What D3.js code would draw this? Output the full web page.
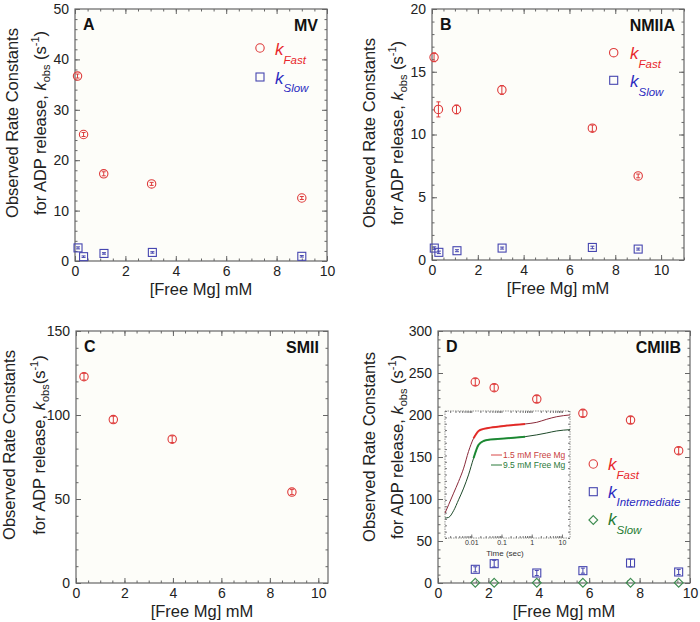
<!DOCTYPE html>
<html><head><meta charset="utf-8">
<script src="https://cdn.jsdelivr.net/npm/d3@7/dist/d3.min.js"></script>
<style>
body{margin:0;background:#fff;}
svg{font-family:Arial,"Liberation Sans",Helvetica,sans-serif;}
</style></head><body>
<svg id="chart" width="700" height="622"></svg>
<script>
// ---------- DATA ----------
// Panel A (MV)
const mgA_fast = [0.1, 0.34, 1.14, 3.04, 9.0];
const kFastA   = [36.7, 25.1, 17.3, 15.3, 12.5];
const errFastA = [0.4, 0.4, 0.4, 0.3, 0.3];
const mgA_slow = [0.12, 0.34, 1.15, 3.07, 9.0];
const kSlowA   = [2.6, 0.86, 1.5, 1.7, 0.93];
const errSlowA = [0.2, 0.15, 0.15, 0.15, 0.15];
// Panel B (NMIIA)
const mgB_fast = [0.09, 0.28, 1.07, 3.05, 7.0, 9.0];
const kFastB   = [16.15, 12.0, 12.0, 13.55, 10.5, 6.7];
const errFastB = [0.35, 0.6, 0.35, 0.35, 0.25, 0.15];
const mgB_slow = [0.1, 0.3, 1.09, 3.06, 7.0, 9.0];
const kSlowB   = [0.95, 0.61, 0.74, 0.95, 1.0, 0.87];
const errSlowB = [0.1, 0.1, 0.08, 0.08, 0.1, 0.08];
// Panel C (SMII)
const mgC      = [0.33, 1.54, 3.97, 8.91];
const kFastC   = [122.8, 97.3, 85.6, 54.1];
const errFastC = [2, 2, 2, 1.5];
// Panel D (CMIIB)
const mgD      = [1.48, 2.23, 3.92, 5.75, 7.64, 9.55];
const kFastD   = [239.3, 232.5, 219, 202, 194, 157.5];
const errFastD = [4, 4, 4, 4, 4, 4];
const kIntD    = [16.3, 23, 11.9, 14.7, 23.8, 13.1];
const errIntD  = [3, 4, 3, 3, 4.5, 3];
const kSlowD   = [0.3, 0.3, 0.3, 0.3, 0.3, 0.3];
// Inset (fluorescence transients, normalized)
const insetTime  = [0.00135, 0.00178, 0.0026, 0.0038, 0.0056, 0.0081, 0.0119, 0.0174, 0.0255, 0.0424, 0.151, 0.605, 1.47, 3.15, 6.73, 18.5];
const insetRed   = [0.196, 0.262, 0.353, 0.445, 0.550, 0.681, 0.785, 0.843, 0.859, 0.869, 0.885, 0.898, 0.911, 0.935, 0.955, 0.969];
const insetGreen = [0.157, 0.162, 0.215, 0.301, 0.393, 0.497, 0.628, 0.733, 0.764, 0.775, 0.785, 0.798, 0.812, 0.827, 0.843, 0.853];
const insetTicks = [0.01, 0.1, 1, 10];
const insetTickLabels = ["0.01", "0.1", "1", "10"];
const insetLegend = ["1.5 mM Free Mg", "9.5 mM Free Mg"];
const xTicks = [0, 2, 4, 6, 8, 10];

// ---------- STYLE ----------
const RED = "#de3b3b", BLUE = "#4646b0", GREEN = "#3d8c50";
const RED_T = "#e8262b", BLUE_T = "#2a2ac0", GREEN_T = "#1f7a32";
const FRAME = "#666";

const svg = d3.select("#chart");

function zip(xs, ys, es){ return xs.map((x,i)=>({x, y: ys[i], e: es ? es[i] : 0})); }

function drawMarker(g, type, cx, cy, color){
  if (type === "circle") {
    g.append("circle").attr("cx", cx).attr("cy", cy).attr("r", 4.2)
      .attr("fill", "none").attr("stroke", color).attr("stroke-width", 1.1);
  } else if (type === "square") {
    g.append("rect").attr("x", cx-4).attr("y", cy-4).attr("width", 8).attr("height", 8)
      .attr("fill", "none").attr("stroke", color).attr("stroke-width", 1.1);
  } else {
    const s = 4.4;
    g.append("path").attr("d", `M${cx},${cy-s}L${cx+s},${cy}L${cx},${cy+s}L${cx-s},${cy}Z`)
      .attr("fill", "none").attr("stroke", color).attr("stroke-width", 1.1);
  }
}

function panel(cfg){
  const g = svg.append("g");
  const x = d3.scaleLinear().domain(cfg.xDomain).range([cfg.x0, cfg.x1]);
  const y = d3.scaleLinear().domain(cfg.yDomain).range([cfg.y1, cfg.y0]);

  g.append("rect").attr("x", cfg.x0).attr("y", cfg.y0)
    .attr("width", cfg.x1-cfg.x0).attr("height", cfg.y1-cfg.y0)
    .attr("fill", "#fdfdf9").attr("stroke", "none");

  const xMinor = d3.range(cfg.xDomain[0], cfg.xDomain[1]+1e-9, 0.5);
  const yMajor = d3.range(cfg.yDomain[0], cfg.yDomain[1]+1e-9, cfg.yStep);
  const yMinor = d3.range(cfg.yDomain[0], cfg.yDomain[1]+1e-9, cfg.yMinor);

  function styleAxis(sel, labels){
    sel.select(".domain").remove();
    sel.selectAll("line").attr("stroke", FRAME);
    sel.selectAll("text").attr("fill", "#222").style("font-size", "14px");
    if(!labels) sel.selectAll("text").remove();
  }
  // bottom
  g.append("g").attr("transform", `translate(0,${cfg.y1})`)
    .call(d3.axisBottom(x).tickValues(xMinor).tickSize(-2.5).tickFormat(""))
    .call(s=>styleAxis(s,false));
  g.append("g").attr("transform", `translate(0,${cfg.y1})`)
    .call(d3.axisBottom(x).tickValues(xTicks).tickSize(-5).tickPadding(5).tickFormat(d3.format("d")))
    .call(s=>styleAxis(s,true));
  // top
  g.append("g").attr("transform", `translate(0,${cfg.y0})`)
    .call(d3.axisTop(x).tickValues(xMinor).tickSize(-2.5).tickFormat(""))
    .call(s=>styleAxis(s,false));
  g.append("g").attr("transform", `translate(0,${cfg.y0})`)
    .call(d3.axisTop(x).tickValues(xTicks).tickSize(-5).tickFormat(""))
    .call(s=>styleAxis(s,false));
  // left
  g.append("g").attr("transform", `translate(${cfg.x0},0)`)
    .call(d3.axisLeft(y).tickValues(yMinor).tickSize(-2.5).tickFormat(""))
    .call(s=>styleAxis(s,false));
  g.append("g").attr("transform", `translate(${cfg.x0},0)`)
    .call(d3.axisLeft(y).tickValues(yMajor).tickSize(-5).tickPadding(6).tickFormat(d3.format("d")))
    .call(s=>styleAxis(s,true));
  // right
  g.append("g").attr("transform", `translate(${cfg.x1},0)`)
    .call(d3.axisRight(y).tickValues(yMinor).tickSize(-2.5).tickFormat(""))
    .call(s=>styleAxis(s,false));
  g.append("g").attr("transform", `translate(${cfg.x1},0)`)
    .call(d3.axisRight(y).tickValues(yMajor).tickSize(-5).tickFormat(""))
    .call(s=>styleAxis(s,false));

  g.append("rect").attr("x", cfg.x0).attr("y", cfg.y0)
    .attr("width", cfg.x1-cfg.x0).attr("height", cfg.y1-cfg.y0)
    .attr("fill", "none").attr("stroke", FRAME).attr("stroke-width", 1.2);

  // panel letter & name
  g.append("text").attr("x", cfg.x0+8).attr("y", cfg.y0+21)
    .style("font-size", "16px").style("font-weight", "bold").attr("fill", "#111").text(cfg.letter);
  g.append("text").attr("x", cfg.x1-9).attr("y", cfg.y0+22).attr("text-anchor", "end")
    .style("font-size", "16px").style("font-weight", "bold").attr("fill", "#111").text(cfg.name);

  // axis titles
  const cx = (cfg.x0+cfg.x1)/2;
  g.append("text").attr("x", cx).attr("y", cfg.y1+34).attr("text-anchor", "middle")
    .style("font-size", "16.5px").attr("fill", "#222").text("[Free Mg] mM");

  g.append("text").attr("transform", `translate(${cfg.yt1},${cfg.ytc}) rotate(-90)`)
    .attr("text-anchor", "middle").style("font-size", "16.5px").attr("fill", "#222")
    .text("Observed Rate Constants");
  const t2 = g.append("text").attr("transform", `translate(${cfg.yt2},${cfg.ytc}) rotate(-90)`)
    .attr("text-anchor", "middle").style("font-size", "16.5px").attr("fill", "#222");
  t2.append("tspan").text("for ADP release, ");
  t2.append("tspan").style("font-style", "italic").text("k");
  t2.append("tspan").attr("dy", 4).style("font-size", "11px").text("obs");
  t2.append("tspan").attr("dy", -4).text(cfg.spaceBeforeS ? " (s" : "(s");
  t2.append("tspan").attr("dy", -7).style("font-size", "11px").text("-1");
  t2.append("tspan").attr("dy", 7).text(")");

  // series
  cfg.series.forEach(s=>{
    const sg = g.append("g");
    s.data.forEach(d=>{
      const px = x(d.x), py = y(d.y);
      if (d.e > 0) {
        const ya = y(d.y + d.e), yb = y(d.y - d.e);
        sg.append("line").attr("x1", px).attr("x2", px).attr("y1", ya).attr("y2", yb)
          .attr("stroke", s.color).attr("stroke-width", 1);
        [ya, yb].forEach(yy=> sg.append("line").attr("x1", px-2).attr("x2", px+2)
          .attr("y1", yy).attr("y2", yy).attr("stroke", s.color).attr("stroke-width", 1));
      }
      drawMarker(sg, s.type, px, py, s.color);
    });
  });

  // legend
  (cfg.legend || []).forEach(l=>{
    drawMarker(g, l.type, l.mx, l.my, l.color);
    g.append("text").attr("x", l.kx).attr("y", l.kb).style("font-size", "17px")
      .style("font-style", "italic").attr("fill", l.tcolor).text("k");
    g.append("text").attr("x", l.kx+8.5).attr("y", l.kb+8.5).style("font-size", "11.5px")
      .style("font-style", "italic").attr("fill", l.tcolor).text(l.sub);
  });
  return {x, y, g};
}

// Panel A
panel({
  x0:75, x1:327, y0:9, y1:261, xDomain:[0,10], yDomain:[0,50], yStep:10, yMinor:2,
  letter:"A", name:"MV", yt1:18, yt2:46, ytc:123, spaceBeforeS:true,
  series:[
    {type:"circle", color:RED, data: zip(mgA_fast, kFastA, errFastA)},
    {type:"square", color:BLUE, data: zip(mgA_slow, kSlowA, errSlowA)}
  ],
  legend:[
    {type:"circle", color:RED, tcolor:RED_T, mx:260, my:48, kx:275, kb:55, sub:"Fast"},
    {type:"square", color:BLUE, tcolor:BLUE_T, mx:260, my:77, kx:275, kb:83.5, sub:"Slow"}
  ]
});
// Panel B
panel({
  x0:432, x1:684, y0:9, y1:260, xDomain:[0,11], yDomain:[0,20], yStep:5, yMinor:1,
  letter:"B", name:"NMIIA", yt1:375, yt2:403, ytc:133, spaceBeforeS:true,
  series:[
    {type:"circle", color:RED, data: zip(mgB_fast, kFastB, errFastB)},
    {type:"square", color:BLUE, data: zip(mgB_slow, kSlowB, errSlowB)}
  ],
  legend:[
    {type:"circle", color:RED, tcolor:RED_T, mx:613.7, my:52.7, kx:630, kb:59, sub:"Fast"},
    {type:"square", color:BLUE, tcolor:BLUE_T, mx:613.7, my:80.3, kx:630, kb:87.3, sub:"Slow"}
  ]
});
// Panel C
panel({
  x0:76, x1:328, y0:331, y1:583, xDomain:[0,10.4], yDomain:[0,150], yStep:50, yMinor:10,
  letter:"C", name:"SMII", yt1:15, yt2:45, ytc:445, spaceBeforeS:false,
  series:[
    {type:"circle", color:RED, data: zip(mgC, kFastC, errFastC)}
  ]
});
// Panel D
panel({
  x0:438, x1:690, y0:331, y1:583, xDomain:[0,10], yDomain:[0,300], yStep:50, yMinor:10,
  letter:"D", name:"CMIIB", yt1:375, yt2:403, ytc:447, spaceBeforeS:true,
  series:[
    {type:"circle", color:RED, data: zip(mgD, kFastD, errFastD)},
    {type:"square", color:BLUE, data: zip(mgD, kIntD, errIntD)},
    {type:"diamond", color:GREEN, data: zip(mgD, kSlowD, null)}
  ],
  legend:[
    {type:"circle", color:RED, tcolor:RED_T, mx:593.3, my:464, kx:608, kb:470, sub:"Fast"},
    {type:"square", color:BLUE, tcolor:BLUE_T, mx:593.3, my:491.7, kx:608, kb:497.5, sub:"Intermediate"},
    {type:"diamond", color:GREEN, tcolor:GREEN_T, mx:593.3, my:520, kx:608, kb:525, sub:"Slow"}
  ]
});

// ---------- INSET ----------
(function(){
  const ix0 = 445, ix1 = 570, iy0 = 411, iy1 = 538;
  const g = svg.append("g");
  const x = d3.scaleLog().domain([insetTime[0], insetTime[insetTime.length-1]]).range([ix0, ix1]);
  const y = d3.scaleLinear().domain([0, 1]).range([iy1, iy0]);
  g.append("rect").attr("x", ix0).attr("y", iy0).attr("width", ix1-ix0).attr("height", iy1-iy0)
    .attr("fill", "#fff");
  const minorX = [];
  [0.001, 0.01, 0.1, 1, 10].forEach(dec=>{ for(let k=1;k<10;k++){ const v=dec*k; if(v>=insetTime[0] && v<=insetTime[insetTime.length-1]) minorX.push(v);} });
  const yT = d3.range(0, 1.0001, 0.05);
  function st(sel){ sel.select(".domain").remove(); sel.selectAll("line").attr("stroke", "#777"); }
  g.append("g").attr("transform", `translate(0,${iy1})`)
    .call(d3.axisBottom(x).tickValues(minorX).tickSize(-2).tickFormat("")).call(st);
  g.append("g").attr("transform", `translate(0,${iy1})`)
    .call(d3.axisBottom(x).tickValues(insetTicks).tickSize(-3.5).tickPadding(2).tickFormat((d,i)=>insetTickLabels[i]))
    .call(st).call(s=>s.selectAll("text").style("font-size","7px").attr("fill","#333"));
  g.append("g").attr("transform", `translate(0,${iy0})`)
    .call(d3.axisTop(x).tickValues(minorX).tickSize(-2).tickFormat("")).call(st);
  g.append("g").attr("transform", `translate(${ix0},0)`)
    .call(d3.axisLeft(y).tickValues(yT).tickSize(-2).tickFormat("")).call(st);
  g.append("g").attr("transform", `translate(${ix1},0)`)
    .call(d3.axisRight(y).tickValues(yT).tickSize(-2).tickFormat("")).call(st);
  g.append("rect").attr("x", ix0).attr("y", iy0).attr("width", ix1-ix0).attr("height", iy1-iy0)
    .attr("fill", "none").attr("stroke", "#777").attr("stroke-width", 0.8).attr("stroke-dasharray", "1.5,1");
  g.append("text").attr("x", 505).attr("y", iy1+18).attr("text-anchor", "middle")
    .style("font-size", "8px").attr("fill", "#333").text("Time (sec)");

  const line = d3.line().x(d=>x(d.t)).y(d=>y(d.v)).curve(d3.curveMonotoneX);
  const red = insetTime.map((t,i)=>({t, v: insetRed[i]}));
  const green = insetTime.map((t,i)=>({t, v: insetGreen[i]}));
  g.append("path").attr("d", line(red)).attr("fill","none").attr("stroke","#8a2a3a").attr("stroke-width",1);
  g.append("path").attr("d", line(green)).attr("fill","none").attr("stroke","#1e4a2a").attr("stroke-width",1);
  // noisy data portions (thicker)
  const seg = (arr)=>arr.filter(d=>d.t>=0.0119 && d.t<=0.605);
  g.append("path").attr("d", line(seg(red))).attr("fill","none").attr("stroke","#e8231f").attr("stroke-width",2).attr("stroke-opacity",0.9);
  g.append("path").attr("d", line(seg(green))).attr("fill","none").attr("stroke","#158a2e").attr("stroke-width",2).attr("stroke-opacity",0.9);

  // inset legend
  const lg = [{c:"#d84848", tc:"#c84040", yy:455}, {c:"#2a7a3a", tc:"#2a7a3a", yy:465}];
  lg.forEach((l,i)=>{
    g.append("line").attr("x1", 491).attr("x2", 502).attr("y1", l.yy).attr("y2", l.yy)
      .attr("stroke", l.c).attr("stroke-width", 1);
    g.append("text").attr("x", 503).attr("y", l.yy+3).style("font-size", "8.5px")
      .attr("fill", l.tc).text(insetLegend[i]);
  });
})();
</script>
</body></html>
